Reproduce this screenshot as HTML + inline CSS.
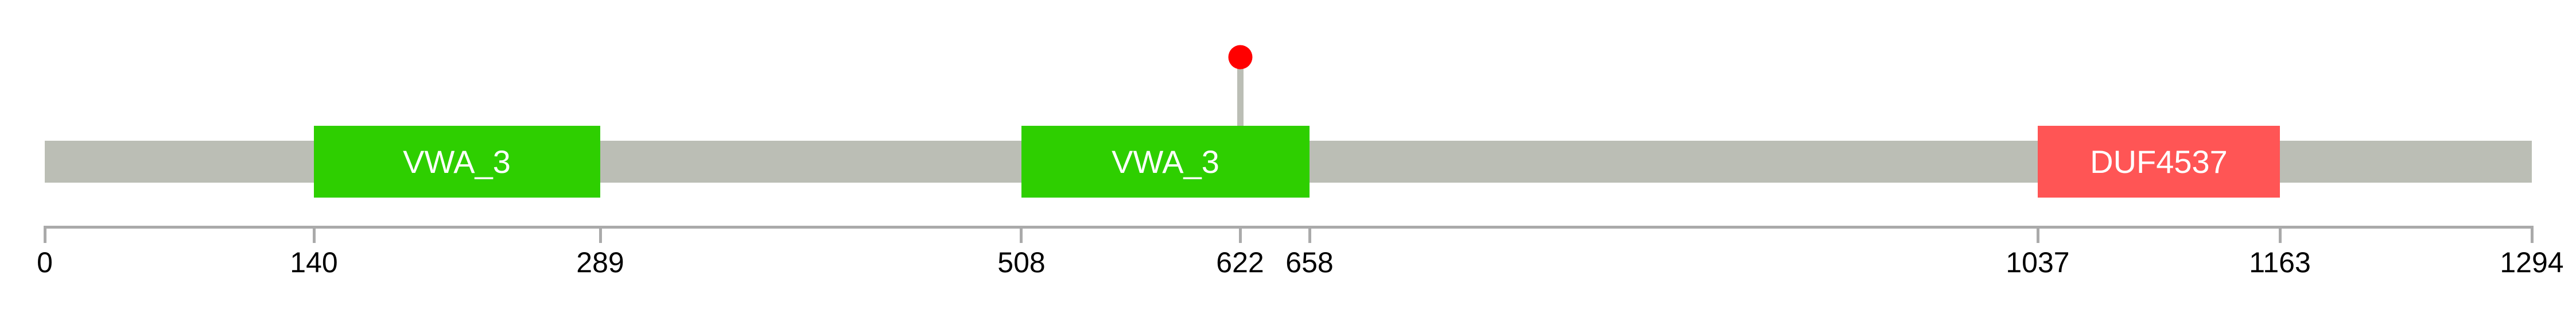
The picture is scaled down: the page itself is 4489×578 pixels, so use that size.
<!DOCTYPE html>
<html><head><meta charset="utf-8"><style>
html,body{margin:0;padding:0;background:#fff;}
svg{display:block;}
text{font-family:"Liberation Sans",Arial,sans-serif;}
</style></head><body>
<svg width="4489" height="578" viewBox="0 0 4489 578" xmlns="http://www.w3.org/2000/svg">
<rect x="78" y="245" width="4334" height="73" fill="#BBBEB5"/>
<rect x="2156" y="105" width="11" height="116" fill="#BBBEB5"/>
<circle cx="2161.5" cy="99.5" r="21" fill="#FF0000"/>
<rect x="547" y="219" width="499" height="125" fill="#2ECF00"/>
<rect x="1780" y="219" width="502" height="125" fill="#2ECF00"/>
<rect x="3551" y="219" width="422" height="125" fill="#FF5555"/>
<g fill="#fff" font-size="56" text-anchor="middle">
<text x="796" y="301">VWA_3</text>
<text x="2031" y="301">VWA_3</text>
<text x="3762" y="301">DUF4537</text>
</g>
<rect x="78" y="393" width="4334" height="5" fill="#AAAAAA"/>
<g fill="#AAAAAA">
<rect x="76" y="393" width="5" height="30"/>
<rect x="545" y="393" width="5" height="30"/>
<rect x="1044" y="393" width="5" height="30"/>
<rect x="1777" y="393" width="5" height="30"/>
<rect x="2159" y="393" width="5" height="30"/>
<rect x="2280" y="393" width="5" height="30"/>
<rect x="3549" y="393" width="5" height="30"/>
<rect x="3971" y="393" width="5" height="30"/>
<rect x="4410" y="393" width="5" height="30"/>
</g>
<g fill="#000" font-size="50" text-anchor="middle">
<text x="78" y="474">0</text>
<text x="547" y="474">140</text>
<text x="1046" y="474">289</text>
<text x="1780" y="474">508</text>
<text x="2161" y="474">622</text>
<text x="2282" y="474">658</text>
<text x="3551" y="474">1037</text>
<text x="3973" y="474">1163</text>
<text x="4412" y="474">1294</text>
</g>
</svg>
</body></html>
